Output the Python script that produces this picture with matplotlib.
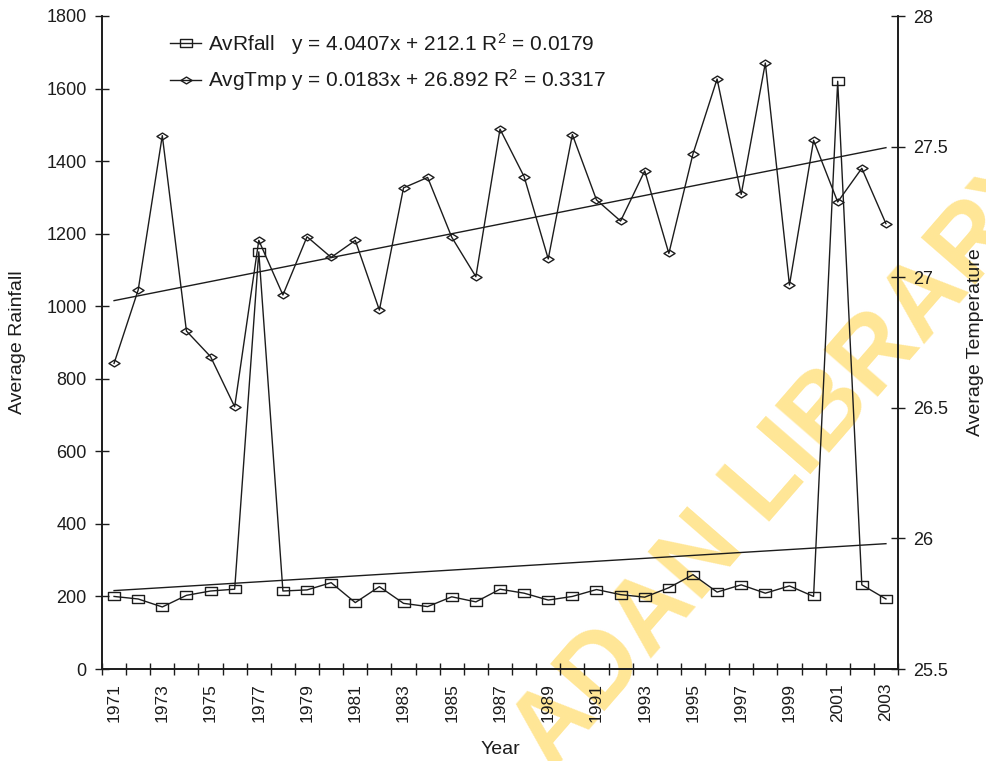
import numpy as np
import matplotlib
matplotlib.use("Agg")
import matplotlib.pyplot as plt
from matplotlib.path import Path
from matplotlib.ticker import FuncFormatter

# ---------------- data ----------------
years = list(range(1971, 2004))
rainfall = [200, 193, 171, 203, 215, 220, 1150, 215, 218, 238, 183, 227, 181, 172,
            199, 185, 220, 209, 190, 200, 219, 205, 198, 224, 260, 212, 232, 209,
            229, 200, 1620, 232, 193]
temperature = [26.670, 26.951, 27.542, 26.794, 26.696, 26.504, 27.141, 26.932,
               27.155, 27.076, 27.141, 26.874, 27.342, 27.382, 27.153, 27.002,
               27.567, 27.385, 27.070, 27.546, 27.296, 27.215, 27.407, 27.091,
               27.472, 27.759, 27.317, 27.820, 26.970, 27.524, 27.288, 27.417,
               27.205]
rain_trend = (4.0407, 212.1)     # slope, intercept (x = 1..n)
temp_trend = (0.0183, 26.892)
rain_r2 = 0.0179
temp_r2 = 0.3317
rain_name = "AvRfall"
temp_name = "AvgTmp"

# ---------------- style ----------------
plt.rcParams["font.family"] = ["Liberation Sans", "DejaVu Sans"]
plt.rcParams["mathtext.fontset"] = "custom"
plt.rcParams["mathtext.rm"] = "Liberation Sans"
plt.rcParams["mathtext.it"] = "Liberation Sans"
plt.rcParams["mathtext.default"] = "rm"

INK = "#1c1c1c"
fig = plt.figure(figsize=(9.86, 7.61), dpi=100)
ax = fig.add_axes([102 / 986, 1 - 669 / 761, 796 / 986, 653 / 761])
ax2 = ax.twinx()

# watermark
fig.text(552 / 986, 1 - 772 / 761, "ADAN LIBRARY", fontsize=74, fontweight="bold",
         color="#FFE696", rotation=49, rotation_mode="anchor", ha="left",
         va="baseline", zorder=0)
ax.set_zorder(2)
ax2.set_zorder(3)
ax.patch.set_visible(False)
ax2.patch.set_visible(False)

idx = np.arange(len(years))
sq = Path([(-1, -0.72), (1, -0.72), (1, 0.72), (-1, 0.72), (-1, -0.72)],
          [Path.MOVETO, Path.LINETO, Path.LINETO, Path.LINETO, Path.CLOSEPOLY])
dm = Path([(-1, 0), (0, 0.62), (1, 0), (0, -0.62), (-1, 0)],
          [Path.MOVETO, Path.LINETO, Path.LINETO, Path.LINETO, Path.CLOSEPOLY])

l1, = ax.plot(idx, rainfall, color=INK, lw=1.0, marker=sq, ms=8.5, mfc="none",
              mec=INK, mew=1.0)
ax.plot(idx, rain_trend[0] * (idx + 1) + rain_trend[1], color=INK, lw=1.0)
l2, = ax2.plot(idx, temperature, color=INK, lw=1.0, marker=dm, ms=8, mfc="none",
               mec=INK, mew=1.0)
ax2.plot(idx, temp_trend[0] * (idx + 1) + temp_trend[1], color=INK, lw=1.0)

ax.set_xlim(-0.5, len(years) - 0.5)
ax.set_ylim(0, 1800)
ax2.set_ylim(25.5, 28)
ax.set_yticks(np.arange(0, 1801, 200))
ax2.set_yticks(np.arange(25.5, 28.01, 0.5))
ax2.yaxis.set_major_formatter(FuncFormatter(lambda v, p: "%g" % v))

# category ticks between years, labels every other year
ax.set_xticks(np.arange(-0.5, len(years), 1.0))
ax.set_xticklabels([])
ax.set_xticks(idx[::2], minor=True)
ax.set_xticklabels([str(y) for y in years[::2]], minor=True, rotation=90)
ax.tick_params(axis="x", which="major", direction="inout", length=8, width=1.0,
               color=INK)
ax.tick_params(axis="x", which="minor", length=0, pad=10, labelsize=12.5,
               labelcolor=INK)
ax.tick_params(axis="y", direction="inout", length=10, width=1.0, pad=6,
               labelsize=13, color=INK, labelcolor=INK)
ax2.tick_params(axis="y", direction="inout", length=10, width=1.0, pad=6,
                labelsize=13, color=INK, labelcolor=INK)

for a in (ax, ax2):
    a.spines["top"].set_visible(False)
    for s in ("left", "right", "bottom"):
        a.spines[s].set_linewidth(1.2)
        a.spines[s].set_color(INK)

ax.set_ylabel("Average Rainfall", fontsize=14, color=INK, va="center")
ax.yaxis.set_label_coords(-(102 - 18) / 796, 0.5)
ax2.set_ylabel("Average Temperature", fontsize=14, color=INK, va="center",
               rotation=90)
ax2.yaxis.set_label_coords((976 - 102) / 796, 0.5)
ax.set_xlabel("Year", fontsize=14, color=INK, va="center")
ax.xaxis.set_label_coords(0.5, -(749 - 669) / 653)

lab1 = "%s   y = %.4fx + %.1f R$^{2}$ = %.4f" % (rain_name, rain_trend[0],
                                                 rain_trend[1], rain_r2)
lab2 = "%s y = %.4fx + %.3f R$^{2}$ = %.4f" % (temp_name, temp_trend[0],
                                               temp_trend[1], temp_r2)
ax2.legend([l1, l2], [lab1, lab2], loc="upper left",
           bbox_to_anchor=((170 - 102) / 796, (669 - 31) / 653), frameon=False,
           fontsize=15, handlelength=1.5, handletextpad=0.3, labelspacing=0.5,
           borderpad=0, borderaxespad=0, labelcolor=INK)

fig.savefig("out.png", dpi=100)
